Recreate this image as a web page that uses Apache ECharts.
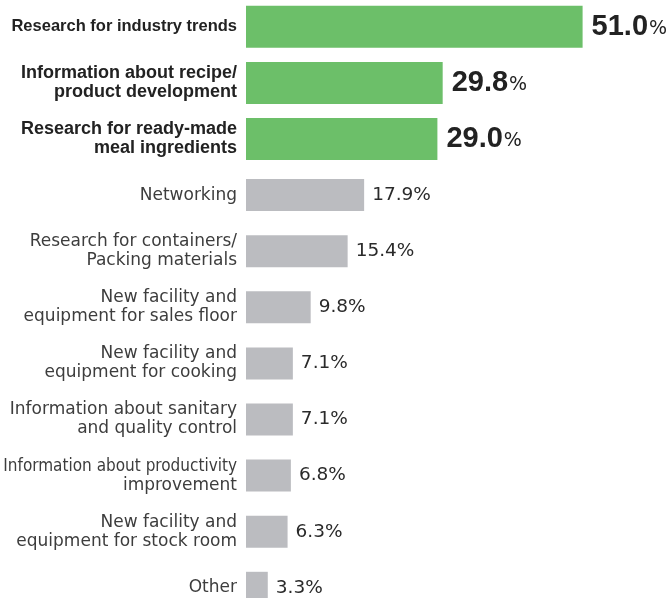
<!DOCTYPE html>
<html>
<head>
<meta charset="utf-8">
<style>
  html, body { margin: 0; padding: 0; background: #ffffff; }
  #chart { width: 670px; height: 598px; }
</style>
<script src="https://cdn.jsdelivr.net/npm/echarts@6/dist/echarts.min.js"></script>
</head>
<body>
<div id="chart"></div>
<script>
// Survey items, top to bottom
const categories = [
  'Research for industry trends',
  'Information about recipe/\nproduct development',
  'Research for ready-made\nmeal ingredients',
  'Networking',
  'Research for containers/\nPacking materials',
  'New facility and\nequipment for sales floor',
  'New facility and\nequipment for cooking',
  'Information about sanitary\nand quality control',
  'Information about productivity\nimprovement',
  'New facility and\nequipment for stock room',
  'Other'
];
// Share of respondents (%)
const values = [51.0, 29.8, 29.0, 17.9, 15.4, 9.8, 7.1, 7.1, 6.8, 6.3, 3.3];
// Number of leading items drawn as highlighted
const topCount = 3;

const topValues = values.map((v, i) => (i < topCount ? v : '-'));
const restValues = values.map((v, i) => (i < topCount ? '-' : v));

const GREEN = '#6cbf69';
const GREY = '#bbbcc0';

const chart = echarts.init(document.getElementById('chart'), null, { renderer: 'canvas' });

function categoryLabel(value, index) {
  const lines = value.split('\n');
  return lines.map((line, li) => {
    let style;
    if (index < topCount) {
      style = (index === 0) ? 'bn' : 'b';
    } else {
      style = (index === 8 && li === 0) ? 'rn' : 'r';
    }
    return '{' + style + '|' + line + '}';
  }).join('\n');
}

const yCommon = {
  type: 'category',
  data: categories,
  inverse: true,
  axisLine: { show: false },
  axisTick: { show: false },
  splitLine: { show: false }
};

chart.setOption({
  animation: false,
  backgroundColor: '#ffffff',
  grid: { left: 246, top: -1.25, width: 396, height: 617.1, outerBoundsMode: 'none', containLabel: false },
  xAxis: {
    type: 'value',
    min: 0,
    max: 60,
    show: false
  },
  yAxis: [
    Object.assign({}, yCommon, {
      axisLabel: {
        margin: 9,
        align: 'right',
        formatter: categoryLabel,
        rich: {
          b: { fontFamily: 'Liberation Sans', fontWeight: 'bold', fontSize: 18, lineHeight: 19, color: '#222222' },
          bn: { fontFamily: 'Liberation Sans', fontWeight: 'bold', fontSize: 16.5, lineHeight: 19, color: '#222222' },
          r: { fontFamily: 'DejaVu Sans', fontSize: 17, lineHeight: 19, color: '#3d3d3d' },
          rn: { fontFamily: 'DejaVu Sans Condensed', fontSize: 17, lineHeight: 19, color: '#3d3d3d' }
        }
      }
    }),
    Object.assign({}, yCommon, { axisLabel: { show: false } })
  ],
  series: [
    {
      type: 'bar',
      yAxisIndex: 0,
      data: topValues,
      barWidth: 42,
      itemStyle: { color: GREEN },
      label: {
        show: true,
        position: 'right',
        distance: 9,
        formatter: p => '{n|' + p.value.toFixed(1) + '}{p|%}',
        rich: {
          n: { fontFamily: 'Liberation Sans', fontWeight: 'bold', fontSize: 29, color: '#222222' },
          p: { fontFamily: 'DejaVu Sans', fontSize: 19, color: '#222222', padding: [5, 0, 0, 1] }
        }
      }
    },
    {
      type: 'bar',
      yAxisIndex: 1,
      data: restValues,
      barWidth: 32,
      itemStyle: { color: GREY },
      label: {
        show: true,
        position: 'right',
        distance: 8,
        fontFamily: 'DejaVu Sans',
        fontSize: 18.5,
        color: '#2a2a2a',
        formatter: p => p.value.toFixed(1) + '%'
      }
    }
  ]
});
</script>
</body>
</html>
